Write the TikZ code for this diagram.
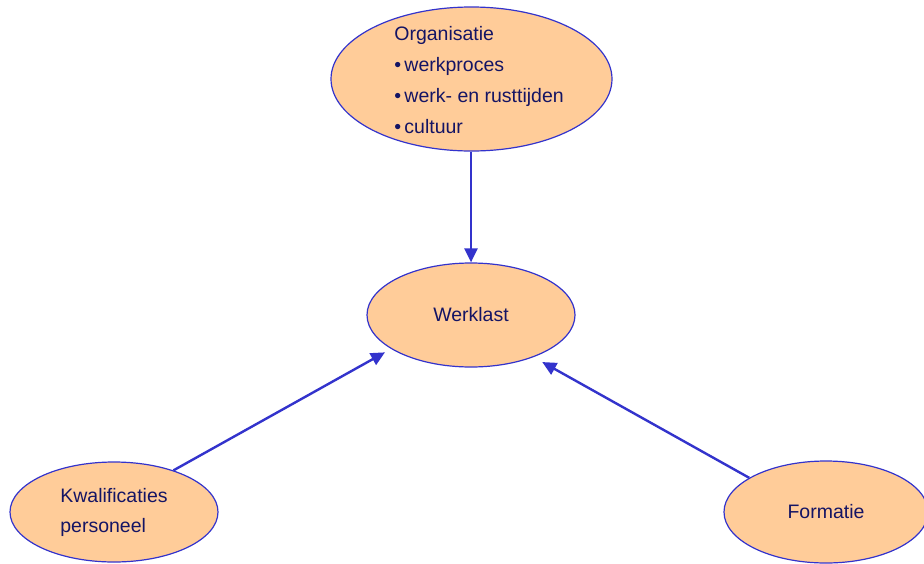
\documentclass[tikz,border=0pt]{standalone}
\usepackage{fontspec}
\setmainfont{Liberation Sans}
\usetikzlibrary{shapes.geometric,arrows.meta}

\definecolor{bolfill}{RGB}{255,204,153}
\definecolor{bolrand}{RGB}{51,51,204}
\definecolor{pijlblauw}{RGB}{51,51,204}
\definecolor{tekstblauw}{RGB}{20,20,100}

\tikzset{every picture/.style={line width=0.75pt}}
\tikzset{
  bol/.style={ellipse, draw=bolrand, fill=bolfill, line width=1.2pt, inner sep=0pt,
    text=tekstblauw, font=\fontsize{19.5}{30}\selectfont, align=left},
  pijl/.style={draw=pijlblauw, line width=2.4pt, -{Triangle[length=14pt,width=13pt]}}
}

\begin{document}
\begin{tikzpicture}[x=1pt,y=1pt,yscale=-1]
\useasboundingbox (0,0) rectangle (924,563);

%Shape: Ellipse
\node [bol, minimum width=281pt, minimum height=144pt] (org) at (471.5,79) {};
%Shape: Ellipse
\node [bol, minimum width=208pt, minimum height=104pt] (wl) at (471,315) {Werklast};
%Shape: Ellipse
\node [bol, minimum width=208pt, minimum height=100pt] (kw) at (114,512) {Kwalificaties\\personeel};
%Shape: Ellipse
\node [bol, minimum width=204pt, minimum height=102pt] (fm) at (826,512) {Formatie};

% Text Node
\node [anchor=base west, inner sep=0pt, text=tekstblauw, align=left,
  font=\fontsize{19.5}{31}\selectfont] (orgtekst) at (394,133)
  {Organisatie\\•\,werkproces\\•\,werk- en rusttijden\\•\,cultuur};

%Straight Lines
\draw [pijl] (wl.north |- org.south) -- (wl.north) ;
%Straight Lines
\draw [pijl, shorten >=7pt] (kw.35) -- (wl.203) ;
%Straight Lines
\draw [pijl, shorten >=10pt] (fm.156.6) -- (wl.326.9) ;
\end{tikzpicture}
\end{document}
